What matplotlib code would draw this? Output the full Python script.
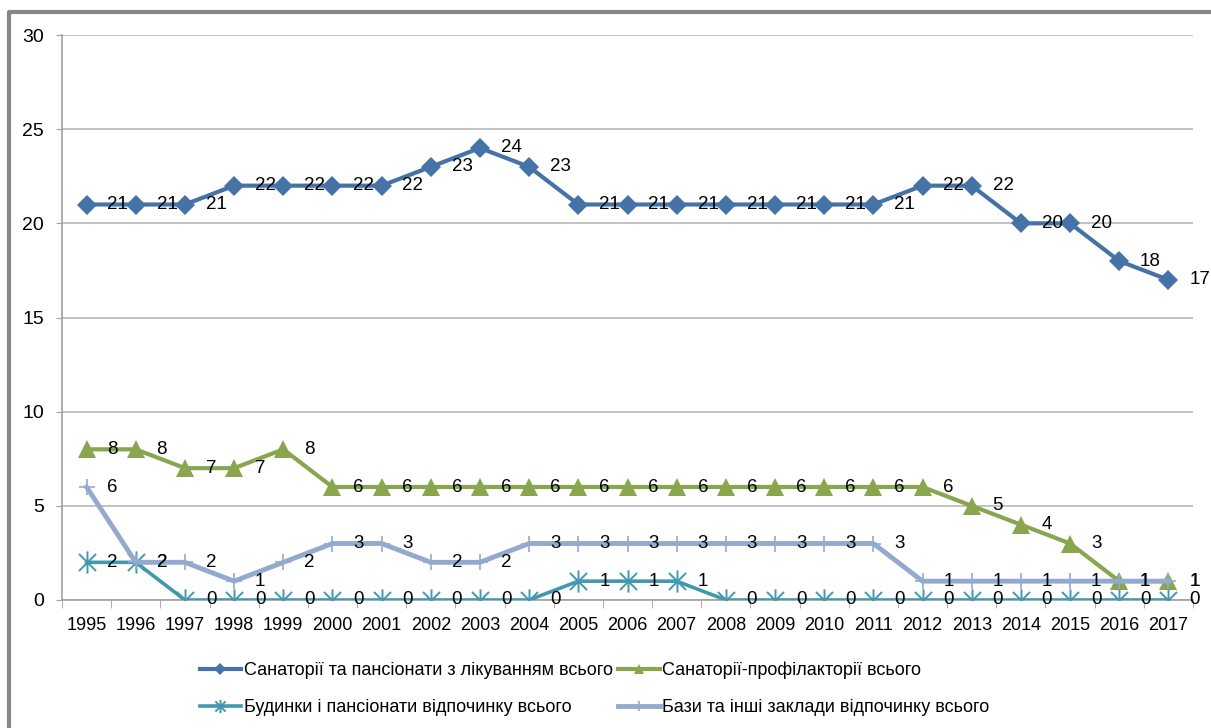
import matplotlib

matplotlib.use("Agg")
import matplotlib.pyplot as plt
from matplotlib.lines import Line2D
from matplotlib.path import Path

plt.rcParams["font.family"] = ["Liberation Sans", "DejaVu Sans"]

years = [str(y) for y in range(1995, 2018)]
sanatoria = [21, 21, 21, 22, 22, 22, 22, 23, 24, 23, 21, 21, 21, 21, 21, 21, 21, 22, 22, 20, 20, 18, 17]
profilaktoria = [8, 8, 7, 7, 8, 6, 6, 6, 6, 6, 6, 6, 6, 6, 6, 6, 6, 6, 5, 4, 3, 1, 1]
budynky = [2, 2, 0, 0, 0, 0, 0, 0, 0, 0, 1, 1, 1, 0, 0, 0, 0, 0, 0, 0, 0, 0, 0]
bazy = [6, 2, 2, 1, 2, 3, 3, 2, 2, 3, 3, 3, 3, 3, 3, 3, 3, 1, 1, 1, 1, 1, 1]

labels = [
    "Санаторії та пансіонати з лікуванням всього",
    "Санаторії-профілакторії всього",
    "Будинки і пансіонати відпочинку всього",
    "Бази та інші заклади відпочинку всього",
]

# asterisk marker: an "x" crossed by a vertical bar
star = Path(
    [(-1, -1), (1, 1), (-1, 1), (1, -1), (0, -1.3), (0, 1.3)],
    [Path.MOVETO, Path.LINETO, Path.MOVETO, Path.LINETO, Path.MOVETO, Path.LINETO],
)

styles = [
    dict(color="#4572A7", marker="D", ms=10, lw=3.0, mew=0),
    dict(color="#89A54E", marker="^", ms=13, lw=3.0, mew=0),
    dict(color="#4198AF", marker=star, ms=16, lw=2.6, mew=1.4, mfc="none"),
    dict(color="#93A9CF", marker="+", ms=12, lw=3.5, mew=1.2),
]

fig = plt.figure(figsize=(12.11, 7.28), dpi=100)
ax = fig.add_axes([62 / 1211, 1 - 600 / 728, (1193 - 62) / 1211, (600 - 35) / 728])

x = list(range(len(years)))
handles = []
for vals, st, lab in zip([sanatoria, profilaktoria, budynky, bazy], styles, labels):
    ln, = ax.plot(x, vals, label=lab, solid_joinstyle="round", zorder=3, **st)
    handles.append(ln)
    for xi, v in zip(x, vals):
        ax.annotate(str(v), (xi, v), xytext=(15, 0), textcoords="offset points",
                    ha="left", va="center", fontsize=13.5, color="black", zorder=5)

ax.set_xlim(-0.5, len(years) - 0.5)
ax.set_ylim(0, 30)
ax.set_yticks(range(0, 31, 5))
ax.set_xticks(x)
ax.set_xticklabels(years)
ax.set_xticks([i - 0.5 for i in range(len(years) + 1)], minor=True)
ax.tick_params(axis="x", which="major", length=0, pad=12, labelsize=13)
ax.tick_params(axis="x", which="minor", length=6, color="#A0A0A0", direction="out")
ax.tick_params(axis="y", length=4, color="#A0A0A0", labelsize=14, pad=9)
ax.grid(axis="y", color="#B8B8B8", lw=1.2)
ax.set_axisbelow(True)
for s in ["top", "right"]:
    ax.spines[s].set_visible(False)
for s in ["left", "bottom"]:
    ax.spines[s].set_color("#A0A0A0")
    ax.spines[s].set_linewidth(1.2)

# chart area frame (top and left edges)
fig.add_artist(Line2D([9 / 1211, 9 / 1211, 1], [0, 1 - 12 / 728, 1 - 12 / 728],
                      transform=fig.transFigure, color="#878787", lw=3))

# legend is filled row by row: two entries per row
order = [0, 2, 1, 3]
fig.legend(handles=[handles[i] for i in order], loc="center", bbox_to_anchor=(0.491, 0.054),
           ncol=2, frameon=False, fontsize=13, handlelength=2.3, handletextpad=0.15,
           columnspacing=0.3, labelspacing=1.1, markerscale=0.6)

fig.savefig("out.png", dpi=100)
